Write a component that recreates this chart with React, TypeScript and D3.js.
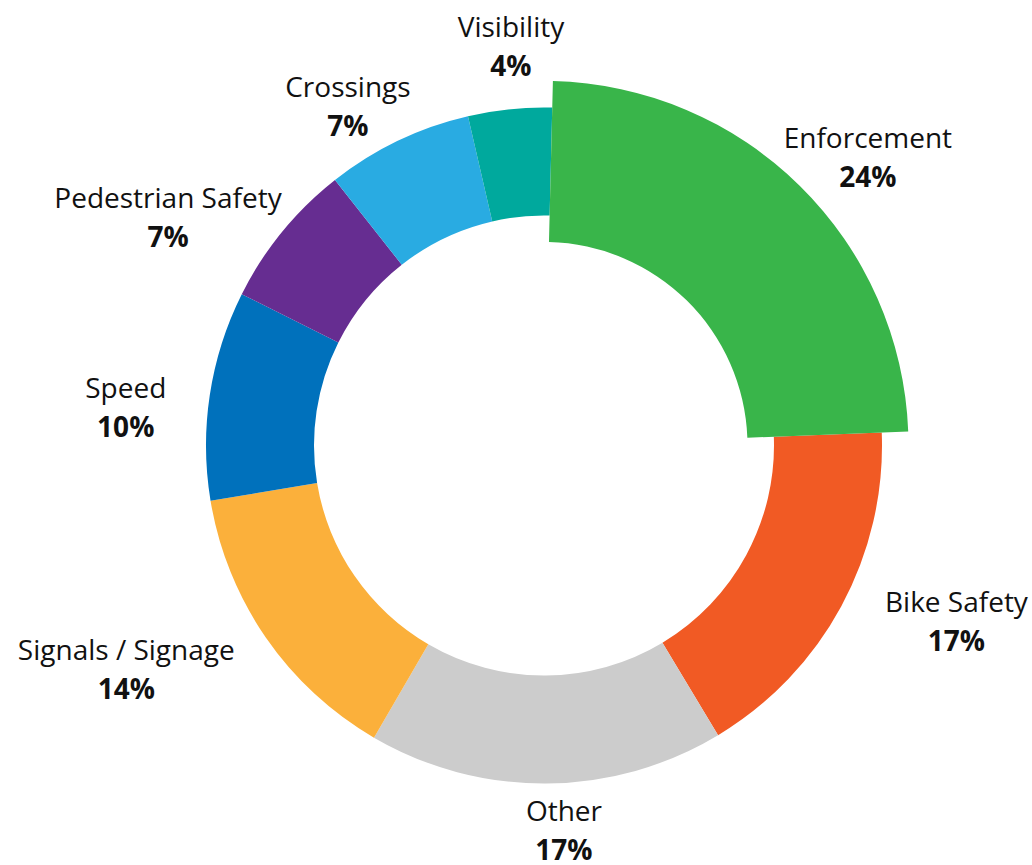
import React from "react";
import * as d3 from "d3";

const categories = [
  "Enforcement",
  "Bike Safety",
  "Other",
  "Signals / Signage",
  "Speed",
  "Pedestrian Safety",
  "Crossings",
  "Visibility",
];
const values = [24, 17, 17, 14, 10, 7, 7, 4];
const colors = [
  "#39B54A",
  "#F15A24",
  "#CCCCCC",
  "#FBB03B",
  "#0071BC",
  "#662D91",
  "#29ABE2",
  "#00A99D",
];
const highlighted = "Enforcement";

// label layout (offsets from arc-based anchor)
const labelNudges: [number, number][] = [
  [29, 21],
  [43, -14],
  [17, -25],
  [-72, -4],
  [-3, 35],
  [-50.5, 47],
  [-14.6, 49.3],
  [9.4, 28.4],
];

const W = 1032;
const H = 865;
const CX = 544;
const CY = 445.5;
const R_IN = 230;
const R_OUT = 338;
const HI_IN = 203.5;
const HI_OUT = 364.5;
const LABEL_R = 420;
const START = (1.4 * Math.PI) / 180;

export default function App() {
  const data = categories.map((c, i) => ({ name: c, value: values[i], color: colors[i] }));
  const pie = d3
    .pie<any>()
    .sort(null)
    .value((d: any) => d.value)
    .startAngle(START)
    .endAngle(START + 2 * Math.PI);
  const arcs = pie(data);
  const ring = d3.arc<any>().innerRadius(R_IN).outerRadius(R_OUT);
  const big = d3.arc<any>().innerRadius(HI_IN).outerRadius(HI_OUT);
  const labelArc = d3.arc<any>().innerRadius(LABEL_R).outerRadius(LABEL_R);
  const font = "'Open Sans', 'Noto Sans', sans-serif";

  const normal = arcs.filter((a) => a.data.name !== highlighted);
  const hi = arcs.filter((a) => a.data.name === highlighted);

  return (
    <svg
      width={W}
      height={H}
      style={{ position: "absolute", left: 0, top: 0, background: "#fff" }}
    >
      <g transform={`translate(${CX},${CY})`}>
        {normal.map((a) => (
          <path key={a.data.name} d={ring(a) as string} fill={a.data.color} />
        ))}
        {hi.map((a) => (
          <path key={a.data.name} d={big(a) as string} fill={a.data.color} />
        ))}
        {arcs.map((a, i) => {
          const [x, y] = labelArc.centroid(a);
          const lx = x + labelNudges[i][0];
          const ly = y + labelNudges[i][1];
          return (
            <g key={"l" + i} fontFamily={font} fill="#111" textAnchor="middle">
              <text x={lx} y={ly - 19.5} fontSize={28}>
                {a.data.name}
              </text>
              <text x={lx} y={ly + 19.5} fontSize={28} fontWeight={700}>
                {a.data.value + "%"}
              </text>
            </g>
          );
        })}
      </g>
    </svg>
  );
}
